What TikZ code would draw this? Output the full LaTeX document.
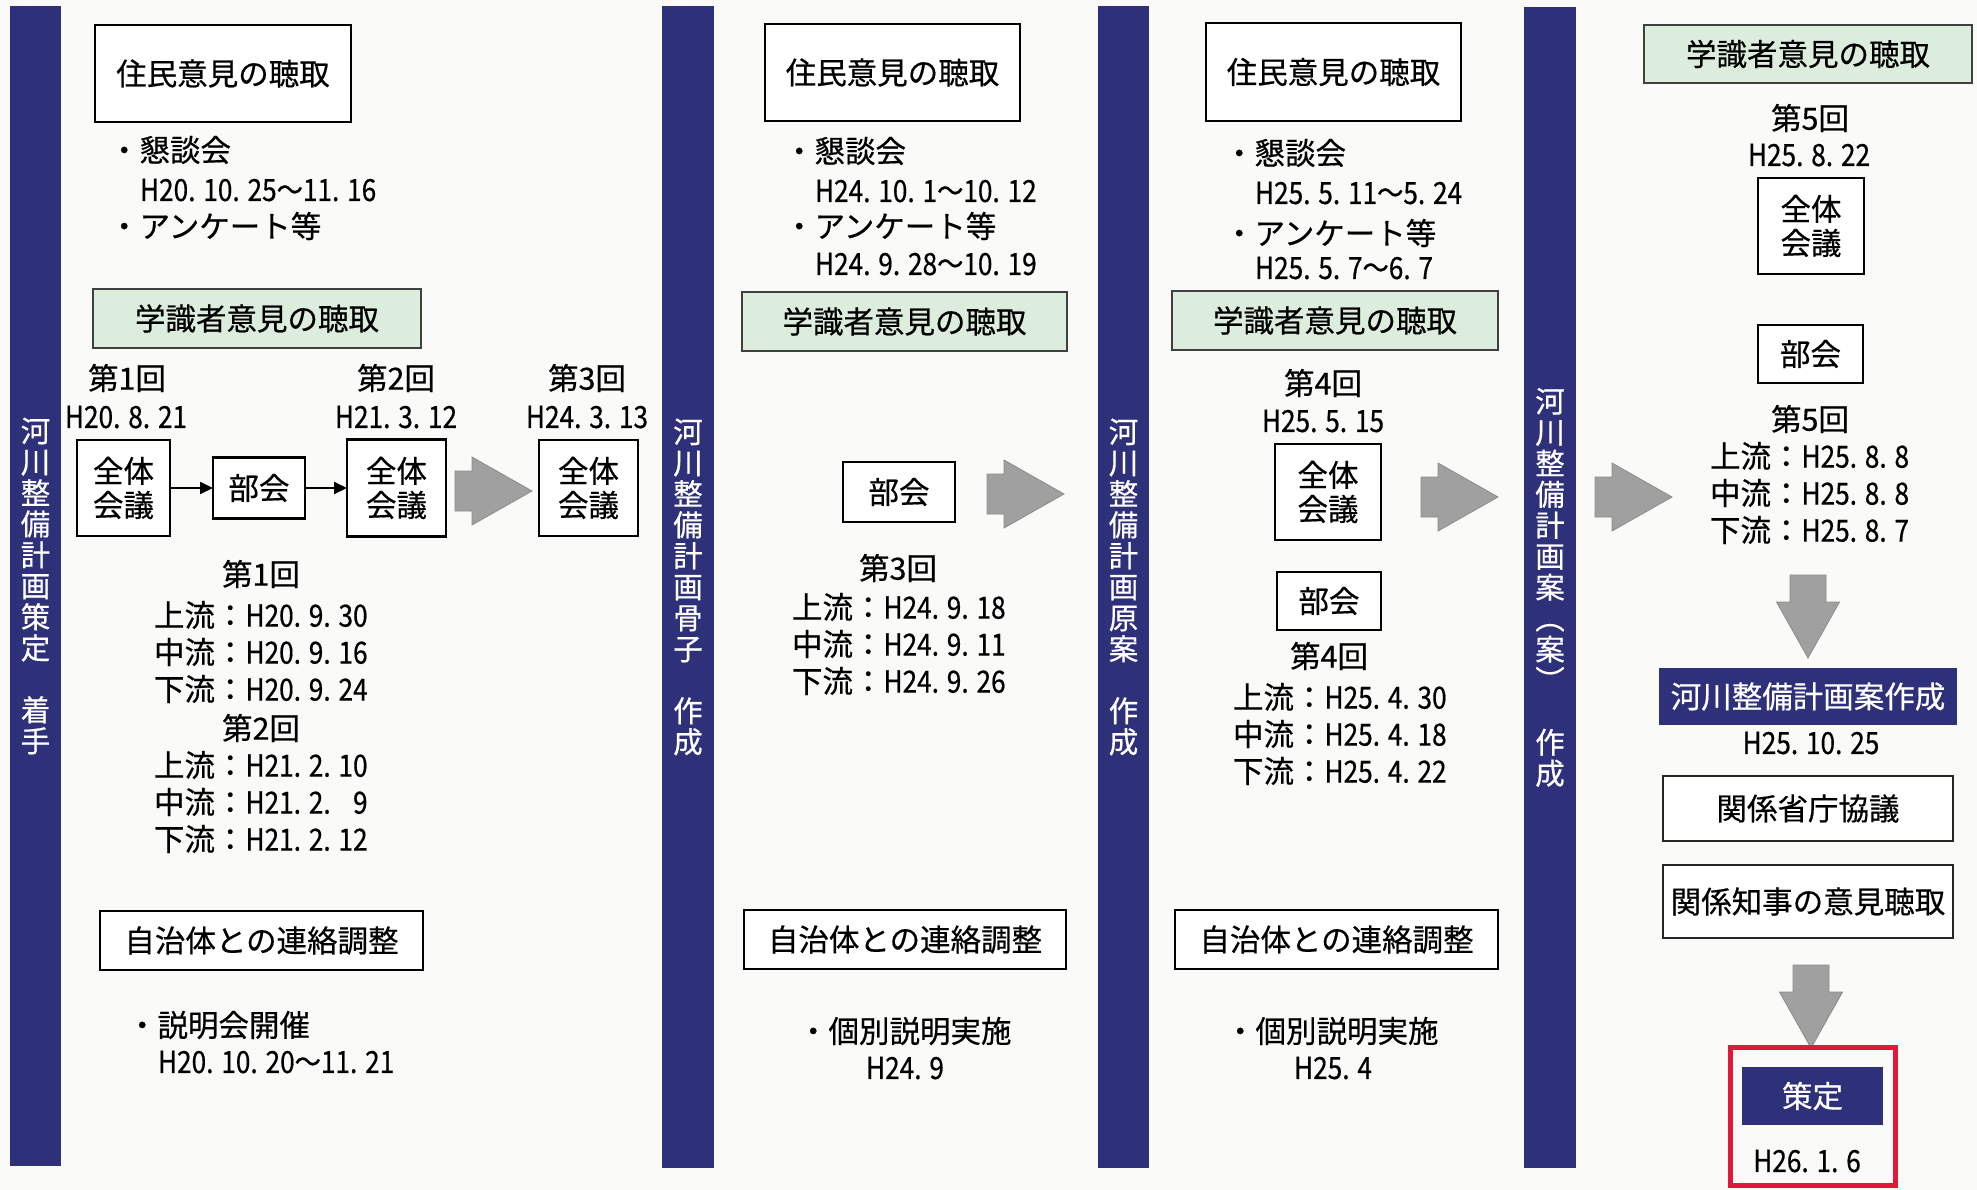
\documentclass[tikz,border=0pt]{standalone}
\usepackage{fontspec}
\setmainfont{Noto Sans CJK JP}[FakeBold=0.5]
\newfontfamily\nar{Noto Sans CJK JP}[FakeStretch=0.86,FakeBold=0.5]
\usetikzlibrary{arrows.meta}
\definecolor{navy}{HTML}{2E3079}
\definecolor{pgreen}{HTML}{DDEDDD}
\definecolor{redb}{HTML}{E2183A}
\definecolor{garrow}{HTML}{A0A0A0}
\definecolor{bgc}{HTML}{FAFAF9}
\newcommand{\D}[1]{{\nar #1}}
\tikzset{
  every node/.style={inner sep=0pt, outer sep=0pt},
  T/.style={font=\fontsize{30.5}{34}\selectfont, align=center},
  box/.style={T, draw=black, line width=2.4pt, fill=white},
  thinbox/.style={T, draw=black!85, line width=1.6pt, fill=white},
  gbox/.style={T, draw=black!75, line width=1.8pt, fill=pgreen},
  nbox/.style={T, fill=navy, text=white},
  bar/.style={fill=navy, text=white, font=\fontsize{29.5}{31}\selectfont, align=center},
  garr/.style={fill=garrow, draw=black!45, line width=0.8pt},
  blk/.style={-{Triangle[length=13pt,width=12pt]}, line width=2pt},
  rarrow/.pic={\draw[garr] (0,-20) -- (17,-20) -- (17,-34) -- (77,0) -- (17,34) -- (17,20) -- (0,20) -- cycle;},
  darrow/.pic={\draw[garr] (-18,0) -- (18,0) -- (18,27) -- (31.5,27) -- (0,83) -- (-31.5,27) -- (-18,27) -- cycle;}
}
\begin{document}
\begin{tikzpicture}[x=1pt,y=-1pt]
\fill[bgc] (0,0) rectangle (1977,1190);
\useasboundingbox (0,0) rectangle (1977,1190);

% ---------------- column 1 ----------------
\node[bar, minimum width=51, minimum height=1160] (bar1) at (35.5,586) {河\\川\\整\\備\\計\\画\\策\\定\\\mbox{}\\着\\手};
\node[box, minimum width=256, minimum height=97] (a1) at (223,73.5) {住民意見の聴取};
\node[T, anchor=west] (k1) at (109,150) {・懇談会};
\node[T, anchor=west] (k1d) at (140,190) {\D{H20. 10. 25～11. 16}};
\node[T, anchor=west] (q1) at (109,226) {・アンケート等};
\node[gbox, minimum width=328, minimum height=59] (b1) at (257,318.5) {学識者意見の聴取};
\node[T] (r1a) at (127,378) {第1回};
\node[T] (r1ad) at (126,417) {\D{H20. 8. 21}};
\node[box, minimum width=93, minimum height=96] (c1) at (123.5,488) {全体\\会議};
\node[box, minimum width=92, minimum height=61] (d1) at (259,488) {部会};
\node[box, minimum width=99, minimum height=97] (e1) at (396.5,488) {全体\\会議};
\node[T] (r1b) at (396,378) {第2回};
\node[T] (r1bd) at (396,417) {\D{H21. 3. 12}};
\draw[blk] (c1.east) -- (d1.west);
\draw[blk] (d1.east) -- (e1.west);
\pic at (455,491) {rarrow};
\node[box, minimum width=99, minimum height=96] (f1) at (588.5,488) {全体\\会議};
\node[T] (r1c) at (587,378) {第3回};
\node[T] (r1cd) at (587,417) {\D{H24. 3. 13}};
\node[T] (s1a) at (261,574) {第1回};
\node[T, anchor=west] (s1a1) at (154,615) {上流：\D{H20. 9. 30}};
\node[T, anchor=west] (s1a2) at (154,652) {中流：\D{H20. 9. 16}};
\node[T, anchor=west] (s1a3) at (154,689) {下流：\D{H20. 9. 24}};
\node[T] (s1b) at (261,728) {第2回};
\node[T, anchor=west] (s1b1) at (154,765) {上流：\D{H21. 2. 10}};
\node[T, anchor=west] (s1b2) at (154,802) {中流：\D{H21. 2. \phantom{1}9}};
\node[T, anchor=west] (s1b3) at (154,839) {下流：\D{H21. 2. 12}};
\node[box, minimum width=323, minimum height=59] (h1) at (261.5,940.5) {自治体との連絡調整};
\node[T, anchor=west] (x1) at (127,1025) {・説明会開催};
\node[T, anchor=west] (x1d) at (158,1062) {\D{H20. 10. 20～11. 21}};

% ---------------- column 2 ----------------
\node[bar, minimum width=52, minimum height=1162] (bar2) at (688,587) {河\\川\\整\\備\\計\\画\\骨\\子\\\mbox{}\\作\\成};
\node[box, minimum width=255, minimum height=97] (a2) at (892.5,72.5) {住民意見の聴取};
\node[T, anchor=west] (k2) at (784,151) {・懇談会};
\node[T, anchor=west] (k2d) at (815,191) {\D{H24. 10. 1～10. 12}};
\node[T, anchor=west] (q2) at (784,226) {・アンケート等};
\node[T, anchor=west] (q2d) at (815,264) {\D{H24. 9. 28～10. 19}};
\node[gbox, minimum width=325, minimum height=59] (b2) at (904.5,321.5) {学識者意見の聴取};
\node[box, minimum width=112, minimum height=60] (d2) at (899,492) {部会};
\pic at (987,494) {rarrow};
\node[T] (s2) at (898,568) {第3回};
\node[T, anchor=west] (s21) at (792,607) {上流：\D{H24. 9. 18}};
\node[T, anchor=west] (s22) at (792,644) {中流：\D{H24. 9. 11}};
\node[T, anchor=west] (s23) at (792,681) {下流：\D{H24. 9. 26}};
\node[box, minimum width=322, minimum height=59] (h2) at (905,939.5) {自治体との連絡調整};
\node[T, anchor=west] (x2) at (798,1031) {・個別説明実施};
\node[T] (x2d) at (905,1068) {\D{H24. 9}};

% ---------------- column 3 ----------------
\node[bar, minimum width=51, minimum height=1162] (bar3) at (1123.5,587) {河\\川\\整\\備\\計\\画\\原\\案\\\mbox{}\\作\\成};
\node[box, minimum width=255, minimum height=98] (a3) at (1333.5,72) {住民意見の聴取};
\node[T, anchor=west] (k3) at (1224,153) {・懇談会};
\node[T, anchor=west] (k3d) at (1255,193) {\D{H25. 5. 11～5. 24}};
\node[T, anchor=west] (q3) at (1224,233) {・アンケート等};
\node[T, anchor=west] (q3d) at (1255,268) {\D{H25. 5. 7～6. 7}};
\node[gbox, minimum width=326, minimum height=59] (b3) at (1335,320.5) {学識者意見の聴取};
\node[T] (r3) at (1323,383) {第4回};
\node[T] (r3d) at (1323,421) {\D{H25. 5. 15}};
\node[box, minimum width=106, minimum height=96] (c3) at (1328,492) {全体\\会議};
\node[box, minimum width=104, minimum height=58] (d3) at (1329,601) {部会};
\node[T] (s3) at (1329,656) {第4回};
\node[T, anchor=west] (s31) at (1233,697) {上流：\D{H25. 4. 30}};
\node[T, anchor=west] (s32) at (1233,734) {中流：\D{H25. 4. 18}};
\node[T, anchor=west] (s33) at (1233,771) {下流：\D{H25. 4. 22}};
\node[box, minimum width=323, minimum height=59] (h3) at (1336.5,939.5) {自治体との連絡調整};
\node[T, anchor=west] (x3) at (1225,1031) {・個別説明実施};
\node[T] (x3d) at (1333,1068) {\D{H25. 4}};
\pic at (1421,497) {rarrow};

% ---------------- column 4 ----------------
\node[bar, minimum width=52, minimum height=1161] (bar4) at (1550,587.5) {河\\川\\整\\備\\計\\画\\案\\︵\\案\\︶\\\mbox{}\\作\\成};
\pic at (1595,497) {rarrow};
\node[gbox, minimum width=328, minimum height=58] (b4) at (1808,54) {学識者意見の聴取};
\node[T] (r4) at (1810,118) {第5回};
\node[T] (r4d) at (1809,155) {\D{H25. 8. 22}};
\node[box, minimum width=106, minimum height=96] (c4) at (1811,226) {全体\\会議};
\node[box, minimum width=105, minimum height=58] (d4) at (1810.5,354) {部会};
\node[T] (s4) at (1810,419) {第5回};
\node[T, anchor=west] (s41) at (1710,456) {上流：\D{H25. 8. 8}};
\node[T, anchor=west] (s42) at (1710,493) {中流：\D{H25. 8. 8}};
\node[T, anchor=west] (s43) at (1710,530) {下流：\D{H25. 8. 7}};
\pic at (1808,575) {darrow};
\node[nbox, minimum width=298, minimum height=57] (n1) at (1808,696.5) {河川整備計画案作成};
\node[T] (n1d) at (1811,743) {\D{H25. 10. 25}};
\node[thinbox, minimum width=290, minimum height=65] (m1) at (1808,808.5) {関係省庁協議};
\node[thinbox, minimum width=290, minimum height=73] (m2) at (1808,901.5) {関係知事の意見聴取};
\pic at (1811,965) {darrow};
\node[draw=redb, line width=5pt, minimum width=165, minimum height=138] (fin) at (1812.5,1116) {};
\node[nbox, minimum width=141, minimum height=58] (n2) at (1812.5,1096) {策定};
\node[T] (n2d) at (1807,1161) {\D{H26. 1. 6}};
\end{tikzpicture}
\end{document}
